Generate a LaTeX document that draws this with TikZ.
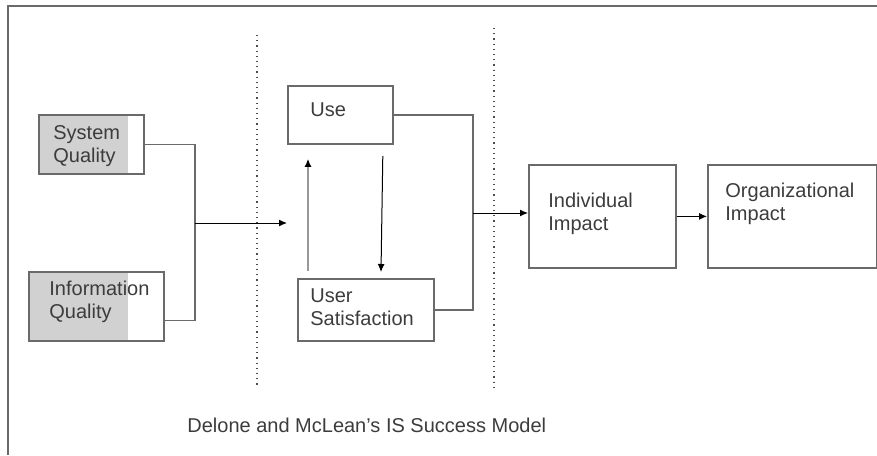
\documentclass[tikz,border=0pt]{standalone}
\usepackage{fontspec}
\setmainfont{Liberation Sans}
\usetikzlibrary{arrows.meta}
\definecolor{linegray}{HTML}{6A6A6A}
\definecolor{textgray}{HTML}{3C3C3C}
\tikzset{
  box/.style={draw=linegray, line width=0.9pt, anchor=north west, inner sep=0pt},
  lbl/.style={anchor=north west, inner sep=0pt, align=left, text=textgray,
    font=\fontsize{10}{11.5}\selectfont},
  arr/.style={-{Latex[length=4pt,width=3.5pt,color=black]}, line width=0.5pt},
  wire/.style={draw=linegray, line width=0.8pt},
  sep/.style={dotted, line width=0.6pt, draw=black!70},
}
\begin{document}
\begin{tikzpicture}[x=0.5pt,y=-0.5pt]
\useasboundingbox (0,0) rectangle (877,455);
% frame and separators
\draw[linegray, line width=0.9pt] (8,455) -- (8,6) -- (877,6);
\draw[sep] (257,35) -- (257,388);
\draw[sep] (494,28) -- (494,387);

% quality boxes (shaded)
\fill[black!18] (38,114) rectangle (128,173);
\fill[black!18] (28,271) rectangle (128,340);
\node[box, minimum width=52.5pt, minimum height=29.5pt] (sq) at (38,114) {};
\node[box, minimum width=67.5pt, minimum height=34.5pt] (iq) at (28,271) {};
\node[lbl] (sq-t) at (53,125) {System\\Quality};
\node[lbl] (iq-t) at (49,281) {Information\\Quality};

% use and satisfaction
\node[box, minimum width=52.5pt, minimum height=29pt] (use) at (287,85) {};
\node[box, minimum width=68pt, minimum height=31pt] (us) at (297,278) {};
\node[lbl] (use-t) at (310,102) {Use};
\node[lbl] (us-t) at (310,288) {User\\Satisfaction};

% impacts
\node[box, minimum width=73.5pt, minimum height=51.5pt] (ii) at (528,164) {};
\node[box, minimum width=84.5pt, minimum height=51.5pt] (oi) at (707,164) {};
\node[lbl] (ii-t) at (548,193) {Individual\\Impact};
\node[lbl] (oi-t) at (725,183) {Organizational\\Impact};

\coordinate (join1) at (195,223);
\coordinate (join2) at (473,213);

% connectors
\draw[wire] (sq.east) -| (join1) |- ([yshift=-7pt]iq.east);
\draw[arr] (join1) -- (join1 -| use.west);
\draw[wire] (use.east) -| (join2) |- (us.east);
\draw[arr] (join2) -- (join2 -| ii.west);
\draw[arr] (ii) -- (oi);
\draw[arr, draw=black!40, line width=0.9pt] ([xshift=5.5pt,yshift=3.5pt]us.north west) -- ([xshift=10.5pt,yshift=-7pt]use.south west);
\draw[arr] ([xshift=-5.5pt,yshift=-5.5pt]use.south east) -- ([xshift=42pt,yshift=3pt]us.north west);

\node[lbl] (title) at (187,418) {Delone and McLean's IS Success Model};
\end{tikzpicture}
\end{document}
